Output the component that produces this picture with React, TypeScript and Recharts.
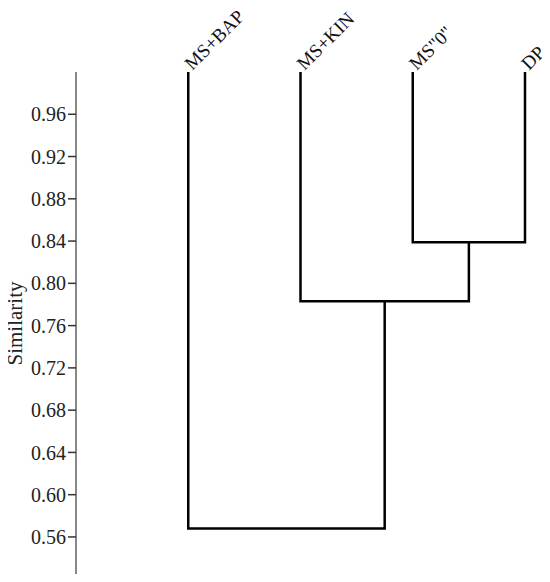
import { LineChart, Line, XAxis, YAxis, Label } from 'recharts';

const leafNames = ['MS+BAP', 'MS+KIN', 'MS"0"', 'DP'];
const leafSimilarity = 1.0;
// pairs of node ids joined (0-3 leaves, 4+ clusters in merge order)
const mergePairs = [
  [2, 3],
  [1, 4],
  [0, 5],
];
const mergeHeights = [0.839, 0.783, 0.568];
const yTicks = [0.56, 0.6, 0.64, 0.68, 0.72, 0.76, 0.8, 0.84, 0.88, 0.92, 0.96];

const FONT = '"Liberation Serif", "Times New Roman", serif';

// position and height of every node
const nodeX: number[] = leafNames.map((_, i) => i);
const nodeY: number[] = leafNames.map(() => leafSimilarity);
const links = mergePairs.map(([a, b], i) => {
  const h = mergeHeights[i];
  nodeX.push((nodeX[a] + nodeX[b]) / 2);
  nodeY.push(h);
  return [
    { x: nodeX[a], y: nodeY[a] },
    { x: nodeX[a], y: h },
    { x: nodeX[b], y: h },
    { x: nodeX[b], y: nodeY[b] },
  ];
});

const LeafTick = (props: any) => {
  const { x, y, payload } = props;
  const tx = x + 4;
  const ty = y - 1;
  return (
    <text
      x={tx}
      y={ty}
      transform={`rotate(-45, ${tx}, ${ty})`}
      textAnchor="start"
      fontFamily={FONT}
      fontSize={19}
      fill="#111"
    >
      {leafNames[payload.value]}
    </text>
  );
};

export default function App() {
  return (
    <div style={{ margin: -8, width: 550, height: 582, background: '#fff' }}>
      <LineChart
        width={550}
        height={582}
        margin={{ top: 0, right: 25, bottom: 7, left: 0 }}
      >
        <XAxis
          xAxisId={0}
          dataKey="x"
          type="number"
          orientation="top"
          domain={[-1, 3]}
          ticks={[0, 1, 2, 3]}
          height={72}
          axisLine={false}
          tickLine={false}
          tickSize={0}
          tickMargin={0}
          tick={<LeafTick />}
          allowDuplicatedCategory={false}
        />
        <YAxis
          type="number"
          domain={[0.524, 1.0]}
          ticks={yTicks}
          width={76}
          tickFormatter={(v) => v.toFixed(2)}
          tick={{ fontFamily: FONT, fontSize: 20, fill: '#222' }}
          tickSize={8}
          tickMargin={2}
          tickLine={{ stroke: '#333', strokeWidth: 1.5 }}
          axisLine={{ stroke: '#888', strokeWidth: 2 }}
          interval={0}
        >
          <Label
            value="Similarity"
            angle={-90}
            position="insideLeft"
            offset={0}
            dx={15}
            dy={0}
            style={{ fontFamily: FONT, fontSize: 21, fill: '#222', textAnchor: 'middle' }}
          />
        </YAxis>
        {links.map((seg, i) => (
          <Line
            key={i}
            data={seg}
            dataKey="y"
            type="linear"
            stroke="#000"
            strokeWidth={2.5}
            dot={false}
            activeDot={false}
            isAnimationActive={false}
          />
        ))}
      </LineChart>
    </div>
  );
}
